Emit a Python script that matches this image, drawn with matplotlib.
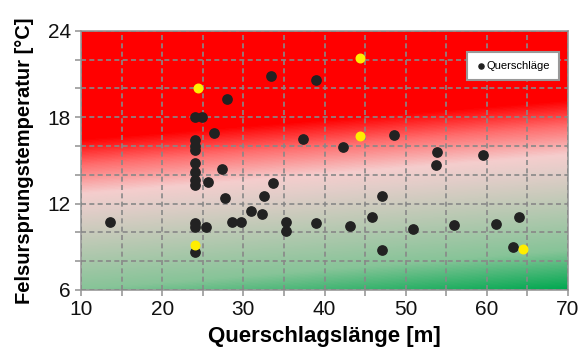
import numpy as np
import matplotlib
matplotlib.use('Agg')
import matplotlib.pyplot as plt
from matplotlib.colors import LinearSegmentedColormap
from matplotlib.ticker import MultipleLocator

plt.rcParams['font.family'] = ['Liberation Sans', 'DejaVu Sans']

# Querschläge (black points)
laenge = [13.6, 24.0, 24.9, 26.4, 24.0, 24.0, 24.0, 24.0, 24.0, 24.0, 24.0,
          27.4, 25.6, 27.7, 24.0, 24.0, 25.4, 28.6, 29.7, 24.0, 28.0, 33.4,
          38.9, 37.4, 42.3, 48.6, 53.9, 53.7, 59.5, 33.6, 32.5, 31.0, 32.3,
          35.3, 35.3, 39.0, 43.1, 45.9, 47.1, 47.1, 50.9, 56.0, 61.1, 64.0, 63.2]
temperatur = [10.7, 18.0, 18.0, 16.9, 16.4, 16.0, 15.7, 14.8, 14.2, 13.65, 13.3,
              14.4, 13.5, 12.4, 10.65, 10.4, 10.35, 10.7, 10.75, 8.65, 19.3, 20.9,
              20.6, 16.5, 15.9, 16.8, 15.6, 14.7, 15.35, 13.4, 12.55, 11.5, 11.25,
              10.7, 10.1, 10.65, 10.45, 11.05, 12.55, 8.8, 10.25, 10.5, 10.55, 11.05, 9.0]

# highlighted points (yellow)
laenge_gelb = [24.4, 44.4, 44.4, 24.0, 64.5]
temperatur_gelb = [20.0, 22.1, 16.7, 9.1, 8.85]

fig = plt.figure(figsize=(5.79, 3.51), dpi=100)
ax = fig.add_axes([0.140, 0.174, 0.841, 0.738])

# background gradient red -> white -> green (slightly tilted)
u, v = np.meshgrid(np.linspace(0, 1, 300), np.linspace(0, 1, 300))
s = v - 0.15 * u
stops = [(-0.15, (0, 168, 80)), (0.0, (135, 196, 152)), (0.30, (225, 205, 200)),
         (0.37, (245, 205, 205)), (0.48, (255, 110, 110)), (0.58, (255, 0, 0)),
         (1.0, (255, 0, 0))]
pos = [(p + 0.15) / 1.15 for p, c in stops]
cmap = LinearSegmentedColormap.from_list(
    'bg', [(p, np.array(c) / 255) for p, (q, c) in zip(pos, stops)])
ax.imshow((s + 0.15) / 1.15, cmap=cmap, vmin=0, vmax=1, origin='lower',
          extent=[10, 70, 6, 24], aspect='auto', zorder=0)

ax.scatter(laenge, temperatur, s=45, color='#222222', zorder=3, label='Querschläge')
ax.scatter(laenge_gelb, temperatur_gelb, s=38, color='#ffee00', zorder=4)

ax.set_xlim(10, 70)
ax.set_ylim(6, 24)
ax.xaxis.set_major_locator(MultipleLocator(10))
ax.xaxis.set_minor_locator(MultipleLocator(5))
ax.yaxis.set_major_locator(MultipleLocator(6))
ax.yaxis.set_minor_locator(MultipleLocator(2))
ax.grid(which='both', color='#888888', linestyle=(0, (3, 2)), linewidth=1.2, zorder=1)
ax.set_axisbelow(False)
for sp in ax.spines.values():
    sp.set_color('#999999')
    sp.set_linewidth(1.2)
ax.tick_params(which='both', direction='out', length=4, color='#999999', width=1.2,
               labelsize=15, labelcolor='#111111')

ax.set_xlabel('Querschlagslänge [m]', fontsize=16, fontweight='bold', labelpad=5)
ax.set_ylabel('Felsursprungstemperatur [°C]', fontsize=14.5, fontweight='bold', labelpad=10)

leg = ax.legend(loc='upper right', bbox_to_anchor=(0.993, 0.94), fontsize=8,
                markerscale=0.55, handletextpad=0.15, borderpad=0.8,
                handlelength=0.8, fancybox=False, framealpha=1)
leg.get_frame().set_edgecolor('#999999')
leg.get_frame().set_linewidth(1.5)

fig.savefig('out.png', dpi=100)
